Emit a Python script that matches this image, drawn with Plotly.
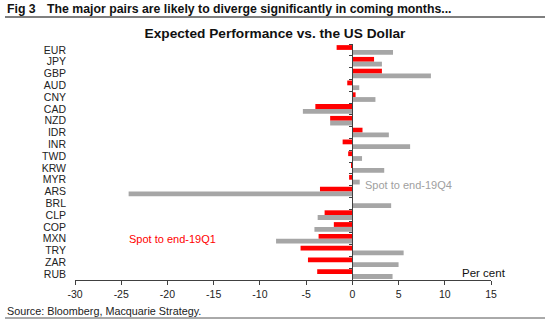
import plotly.graph_objects as go

currencies = ["EUR", "JPY", "GBP", "AUD", "CNY", "CAD", "NZD", "IDR", "INR", "TWD",
              "KRW", "MYR", "ARS", "BRL", "CLP", "COP", "MXN", "TRY", "ZAR", "RUB"]
spot_19q1 = [-1.7, 2.35, 3.2, -0.55, 0.35, -4.0, -2.4, 1.1, -1.05, -0.45,
             -0.1, -0.35, -3.5, 0.0, -3.0, -2.0, -3.65, -5.6, -4.8, -3.8]
spot_19q4 = [4.4, 3.2, 8.5, 0.75, 2.5, -5.35, -2.4, 3.95, 6.25, 1.05,
             3.45, 0.8, -24.2, 4.2, -3.75, -4.1, -8.25, 5.55, 5.0, 4.35]
x_ticks = [-30, -25, -20, -15, -10, -5, 0, 5, 10, 15]

W, H = 550, 324
L, R, T, B = 75, 59, 44, 44
pw, ph = W - L - R, H - T - B

def px(xpix):
    return (xpix - L) / pw

def py(ypix):
    return (H - B - ypix) / ph

FONT = "Liberation Sans, Arial, sans-serif"
n = len(currencies)

fig = go.Figure()
fig.add_trace(go.Bar(y=currencies, x=spot_19q1, orientation="h", name="Spot to end-19Q1",
                     marker=dict(color="#FF0000", line=dict(width=0)), yaxis="y"))
fig.add_trace(go.Bar(y=currencies, x=spot_19q4, orientation="h", name="Spot to end-19Q4",
                     marker=dict(color="#A6A6A6", line=dict(width=0)), yaxis="y"))
# invisible helper trace to draw the zero-line category axis
fig.add_trace(go.Scatter(y=currencies, x=[0] * n, mode="markers",
                         marker=dict(opacity=0), hoverinfo="skip", showlegend=False,
                         yaxis="y2"))

fig.update_layout(
    width=W, height=H,
    margin=dict(l=L, r=R, t=T, b=B),
    paper_bgcolor="white", plot_bgcolor="white",
    showlegend=False,
    barmode="group", bargap=0.19, bargroupgap=0,
    font=dict(family=FONT, size=10.5, color="#222"),
    title=dict(text="<b>Expected Performance vs. the US Dollar</b>",
               x=0.5, xref="container", xanchor="center",
               y=1 - 33 / H, yref="container", yanchor="middle",
               font=dict(family=FONT, size=13.7, color="#111")),
    xaxis=dict(range=[-30, 15], tickvals=x_ticks, ticktext=[str(v) for v in x_ticks],
               showgrid=False, zeroline=False, showline=True, linecolor="#404040",
               linewidth=1, ticks="outside", ticklen=4, tickcolor="#404040",
               tickfont=dict(size=10.5, color="#222"), fixedrange=True),
    yaxis=dict(categoryorder="array", categoryarray=currencies,
               range=[n - 0.5, -0.5], autorange=False,
               tickmode="array", tickvals=currencies,
               showgrid=False, zeroline=False, showline=False, ticks="",
               ticklabelstandoff=8, tickfont=dict(size=10.5, color="#222")),
    yaxis2=dict(overlaying="y", matches="y", anchor="free", position=30 / 45,
                side="left", showline=True, linecolor="#404040", linewidth=1,
                tickmode="linear", dtick=1,
                ticks="outside", ticklen=3, tickcolor="#404040", tickson="boundaries",
                showticklabels=False, showgrid=False, zeroline=False),
)

fig.add_annotation(text="Spot to end-19Q4", x=1.1, y=11.45, xref="x", yref="y",
                   xanchor="left", yanchor="middle", showarrow=False,
                   font=dict(family=FONT, size=11, color="#A0A0A0"))
fig.add_annotation(text="Spot to end-19Q1", x=-24.4, y=16, xref="x", yref="y",
                   xanchor="left", yanchor="middle", showarrow=False,
                   font=dict(family=FONT, size=11, color="#FF0000"))
fig.add_annotation(text="Per cent", x=11.6, y=19, xref="x", yref="y", yshift=1,
                   xanchor="left", yanchor="middle", showarrow=False,
                   font=dict(family=FONT, size=11.5, color="#111"))

# header and footer
fig.add_annotation(text="<b>Fig 3</b>", x=px(5), y=py(9), xref="paper", yref="paper",
                   xanchor="left", yanchor="middle", showarrow=False,
                   font=dict(family=FONT, size=12.3, color="#111"))
fig.add_annotation(text="<b>The major pairs are likely to diverge significantly in coming months...</b>",
                   x=px(45), y=py(9), xref="paper", yref="paper",
                   xanchor="left", yanchor="middle", showarrow=False,
                   font=dict(family=FONT, size=12.3, color="#111"))
fig.add_annotation(text="Source: Bloomberg, Macquarie Strategy.", x=px(5), y=py(311),
                   xref="paper", yref="paper", xanchor="left", yanchor="middle",
                   showarrow=False, font=dict(family=FONT, size=10.8, color="#222"))
fig.add_shape(type="line", xref="paper", yref="paper", x0=px(5), x1=px(545),
              y0=py(17), y1=py(17), line=dict(color="#555", width=1.5))
fig.add_shape(type="line", xref="paper", yref="paper", x0=px(5), x1=px(545),
              y0=py(318), y1=py(318), line=dict(color="#555", width=1))

fig.write_html("out.html")
